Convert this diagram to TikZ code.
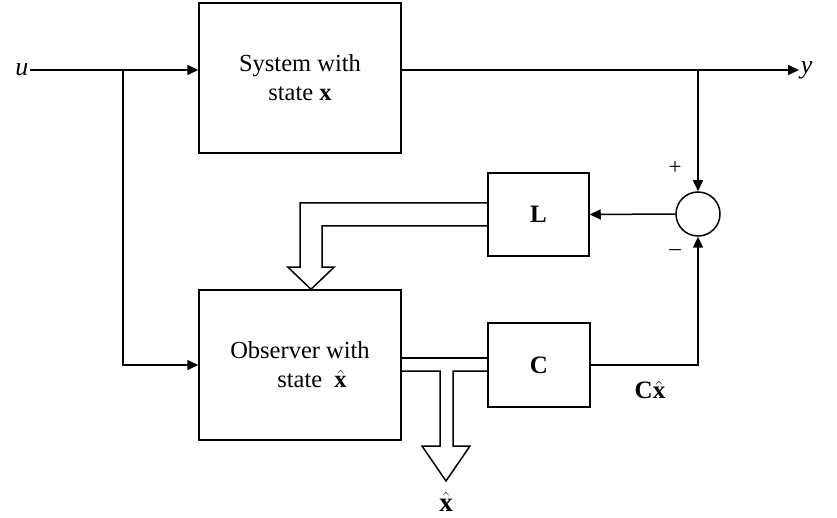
\documentclass[tikz,border=0pt]{standalone}
\usepackage{fontspec}
\setmainfont{Liberation Serif}
\usetikzlibrary{arrows.meta, calc}

\begin{document}
\begin{tikzpicture} [x=1pt, y=-1pt, line width=1.5pt,
  blk/.style={draw, rectangle, inner sep=0pt, align=center, font=\fontsize{24.5}{29}\selectfont},
  lbl/.style={inner sep=1pt, font=\fontsize{26}{30}\selectfont},
  sig/.style={-{Triangle[length=11pt,width=10pt]}}]
\def\hw{11};
\def\ahw{23};
\def\ahl{22};
%\draw[help lines] (0,0) grid[step=50] (837,518);
\useasboundingbox (0,0) rectangle (837,518);
\node (sys) [blk, minimum width=202, minimum height=150] at (300,78) {System with\\state $\mathbf{x}$};
\node (obs) [blk, minimum width=202, minimum height=150] at (300,365) {Observer with\\\hspace*{24pt}state\ \ $\hat{\mathbf{x}}$};
\node (Lbox) [blk, minimum width=101, minimum height=83, font=\fontsize{25}{29}\selectfont\bfseries] at (538.5,214.5) {L};
\node (Cbox) [blk, minimum width=102, minimum height=84, font=\fontsize{25}{29}\selectfont\bfseries] at (539,365) {C};
\node (sum) [draw, circle, minimum size=44, inner sep=0pt] at (698,214) {};
\node (ulab) [lbl, anchor=east] at (30,70) {\textit{u}};
\node (ylab) [lbl, anchor=west] at (799,70) {\textit{y}};
\node (plus) [lbl, font=\fontsize{23}{27}\selectfont] at (675,168) {+};
\node (minus) [lbl, font=\fontsize{23}{27}\selectfont] at (675,253) {--};
\node (Cxlab) [lbl, font=\fontsize{25}{29}\selectfont] at (650,390) {$\mathbf{C}\hat{\mathbf{x}}$};
\node (xhlab) [lbl, font=\fontsize{27}{31}\selectfont] at (446,502) {$\hat{\mathbf{x}}$};
\coordinate (j1) at (123,70);
\coordinate (j2) at (698,70);
\draw [sig] (ulab.east) -- (ulab.east -| sys.west);
\draw [sig] (j1) |- (obs.west);
\draw [sig] (ulab.east -| sys.east) -- (ylab.west);
\draw [sig] (j2) -- (sum.north);
\draw [sig] (sum.west) -- (Lbox.east);
\draw [sig] (Cbox.east) -| (sum.south);
% hollow arrow L -> observer
\draw [line join=miter] ($(Lbox.west)+(0,-11.5)$) -| ($(obs.north)+(0,-\ahl)$) -- ++(\hw-\ahw,0) -- ($(obs.north)+(\hw,0)$)
  -- ++(\ahw,-\ahl) -- ++(\hw-\ahw,0) |- ($(Lbox.west)+(0,11.5)$);
% hollow arrow observer -> C and out
\draw ($(obs.east)+(0,-7)$) -- ($(Cbox.west)+(0,-7)$);
\draw [line join=miter] ($(obs.east)+(0,6)$) -| (440,446) -- (422,446) -- (446,481) -- (470,446) -- (453,446) |- ($(Cbox.west)+(0,6)$);
\end{tikzpicture}
\end{document}
